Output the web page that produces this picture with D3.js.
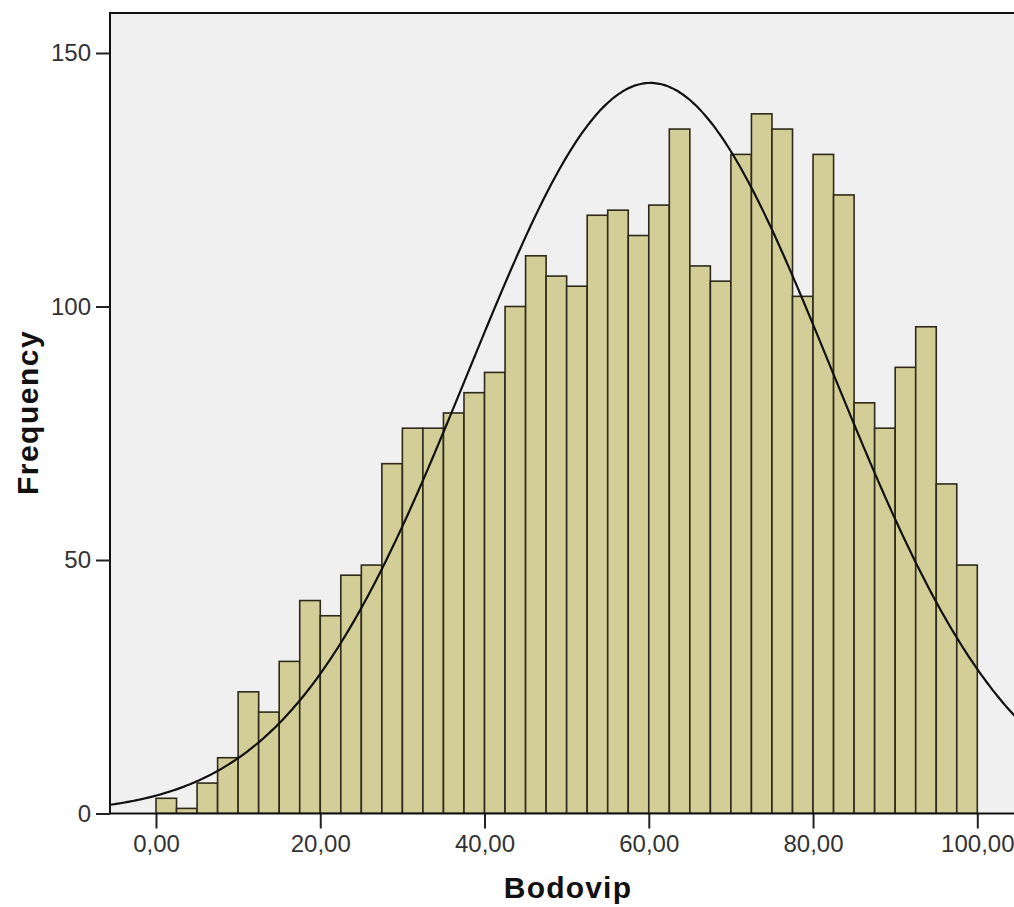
<!DOCTYPE html>
<html>
<head>
<meta charset="utf-8">
<script src="https://cdn.jsdelivr.net/npm/d3@7"></script>
<style>
  html, body { margin: 0; padding: 0; background: #ffffff; }
  svg { display: block; }
</style>
</head>
<body>
<svg id="chart" width="1014" height="907"></svg>
<script>
// ---- data ----
const binStarts = [0, 2.5, 5, 7.5, 10, 12.5, 15, 17.5, 20, 22.5,
                   25, 27.5, 30, 32.5, 35, 37.5, 40, 42.5, 45, 47.5,
                   50, 52.5, 55, 57.5, 60, 62.5, 65, 67.5, 70, 72.5,
                   75, 77.5, 80, 82.5, 85, 87.5, 90, 92.5, 95, 97.5];
const binWidth = 2.5;
const frequencies = [3, 1, 6, 11, 24, 20, 30, 42, 39, 47,
                     49, 69, 76, 76, 79, 83, 87, 100, 110, 106,
                     104, 118, 119, 114, 120, 135, 108, 105, 130, 138,
                     135, 102, 130, 122, 81, 76, 88, 96, 65, 49];
const xTickValues = [0, 20, 40, 60, 80, 100];
const xTickLabels = ["0,00", "20,00", "40,00", "60,00", "80,00", "100,00"];
const yTickValues = [0, 50, 100, 150];
const yTickLabels = ["0", "50", "100", "150"];
// normal curve parameters (fitted: mean, std. deviation, N)
const curveMean = 60.2;
const curveSD = 22.1;
const curveN = 3193;
const xTitle = "Bodovip";
const yTitle = "Frequency";

// ---- layout ----
const svg = d3.select("#chart");
const plot = { left: 110, top: 13, right: 1022, bottom: 813.5 };

const x = d3.scaleLinear().domain([0, 100]).range([156, 977.3]);
const y = d3.scaleLinear().domain([0, 150]).range([plot.bottom, 53]);

// plot background
svg.append("rect")
  .attr("x", plot.left).attr("y", plot.top)
  .attr("width", plot.right - plot.left).attr("height", plot.bottom - plot.top)
  .attr("fill", "#f0f0f0");

svg.append("clipPath").attr("id", "clip")
  .append("rect")
  .attr("x", plot.left).attr("y", plot.top)
  .attr("width", plot.right - plot.left).attr("height", plot.bottom - plot.top);

const g = svg.append("g").attr("clip-path", "url(#clip)");

// bars
g.selectAll("rect.bar")
  .data(binStarts.map((s, i) => ({ s, v: frequencies[i] })))
  .join("rect")
  .attr("class", "bar")
  .attr("x", d => x(d.s))
  .attr("y", d => y(d.v))
  .attr("width", d => x(d.s + binWidth) - x(d.s))
  .attr("height", d => y(0) - y(d.v))
  .attr("fill", "#d3ce98")
  .attr("stroke", "#2e2a1a")
  .attr("stroke-width", 1.6);

// normal curve
const xMin = x.invert(plot.left), xMax = x.invert(plot.right);
const curvePts = d3.range(xMin, xMax + 0.25, 0.25).map(t => {
  const z = (t - curveMean) / curveSD;
  return [t, curveN * binWidth / (curveSD * Math.sqrt(2 * Math.PI)) * Math.exp(-0.5 * z * z)];
});
g.append("path")
  .datum(curvePts)
  .attr("fill", "none")
  .attr("stroke", "#111")
  .attr("stroke-width", 2.2)
  .attr("d", d3.line().x(d => x(d[0])).y(d => y(d[1])).curve(d3.curveBasis));

// frame (top & left)
svg.append("path")
  .attr("d", `M${plot.left},${plot.bottom} V${plot.top} H${plot.right}`)
  .attr("fill", "none").attr("stroke", "#111").attr("stroke-width", 2);

// y axis
const yAxis = d3.axisLeft(y)
  .tickValues(yTickValues)
  .tickFormat((d, i) => yTickLabels[i])
  .tickSize(14).tickPadding(5);
const yg = svg.append("g").attr("transform", `translate(${plot.left},0)`).call(yAxis);
yg.select(".domain").remove();
yg.selectAll(".tick line").attr("stroke", "#222").attr("stroke-width", 2);
yg.selectAll(".tick text")
  .attr("font-family", "'Liberation Sans', Arial, sans-serif")
  .attr("font-size", 24).attr("fill", "#333");

// x axis
const xAxis = d3.axisBottom(x)
  .tickValues(xTickValues)
  .tickFormat((d, i) => xTickLabels[i])
  .tickSize(15).tickPadding(6);
const xg = svg.append("g").attr("transform", `translate(0,${plot.bottom})`).call(xAxis);
xg.select(".domain").remove();
xg.selectAll(".tick line").attr("stroke", "#222").attr("stroke-width", 2);
xg.selectAll(".tick text")
  .attr("font-family", "'Liberation Sans', Arial, sans-serif")
  .attr("font-size", 24).attr("fill", "#333");

svg.append("line")
  .attr("x1", plot.left).attr("x2", plot.right)
  .attr("y1", plot.bottom).attr("y2", plot.bottom)
  .attr("stroke", "#111").attr("stroke-width", 2);

// axis titles
svg.append("text")
  .attr("x", 568).attr("y", 898)
  .attr("text-anchor", "middle")
  .attr("font-family", "'Liberation Sans', Arial, sans-serif")
  .attr("font-weight", "bold").attr("font-size", 30)
  .attr("letter-spacing", 1.2)
  .attr("fill", "#111")
  .text(xTitle);

svg.append("text")
  .attr("transform", "translate(37.5,412.5) rotate(-90)")
  .attr("text-anchor", "middle")
  .attr("font-family", "'Liberation Sans', Arial, sans-serif")
  .attr("font-weight", "bold").attr("font-size", 30)
  .attr("letter-spacing", 1.5)
  .attr("fill", "#111")
  .text(yTitle);
</script>
</body>
</html>
